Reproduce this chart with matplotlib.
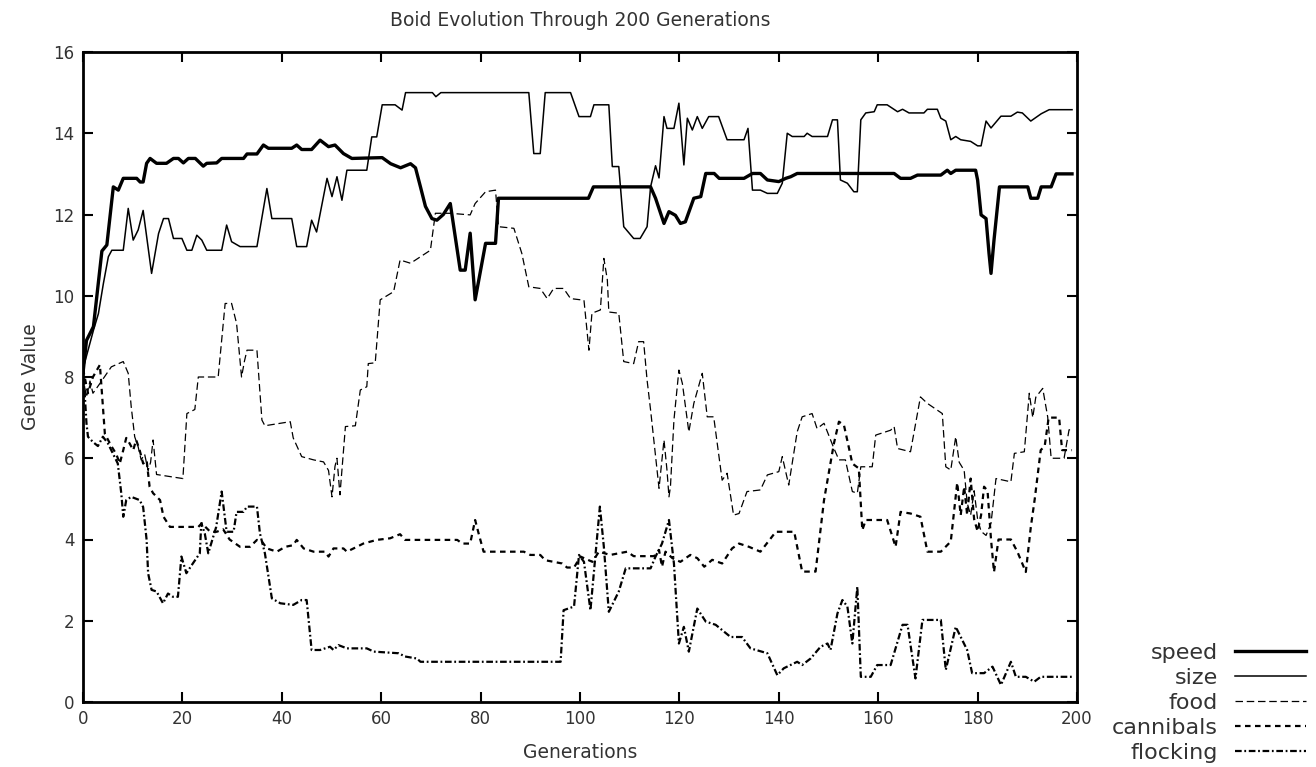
import matplotlib
matplotlib.use("Agg")
import matplotlib.pyplot as plt

# gene values: (generation, value)
speed = [(0, 8.1), (0.7, 8.9), (2.1, 9.24), (3.8, 11.1), (4.8, 11.25), (6.1, 12.68), (7.1, 12.6),
         (8.1, 12.89), (10.8, 12.89), (11.5, 12.8), (12.1, 12.8), (12.8, 13.26), (13.5, 13.38),
         (14.8, 13.26), (16.8, 13.26), (18.2, 13.38), (19.2, 13.38), (20.2, 13.27), (21.2, 13.38),
         (22.6, 13.38), (24.2, 13.19), (24.9, 13.26), (26.9, 13.27), (27.9, 13.38), (32.3, 13.38),
         (33, 13.49), (35, 13.49), (36.3, 13.71), (37.3, 13.63), (42, 13.63), (43, 13.71), (44, 13.6),
         (46, 13.6), (47.7, 13.83), (49.4, 13.67), (50.7, 13.71), (52.4, 13.5), (54.1, 13.38),
         (60.2, 13.4), (61.9, 13.25), (63.9, 13.15), (65.9, 13.25), (66.9, 13.15), (67.9, 12.68),
         (68.9, 12.2), (70.2, 11.9), (71.2, 11.86), (72.5, 12.0), (73.9, 12.27), (75.9, 10.63),
         (76.9, 10.63), (77.9, 11.54), (78.9, 9.9), (81, 11.29), (83, 11.29), (83.6, 12.4),
         (101.7, 12.4), (102.7, 12.68), (114.2, 12.68), (115.2, 12.4), (116.9, 11.78), (117.9, 12.07),
         (119.2, 11.98), (120.2, 11.78), (121.2, 11.82), (122.9, 12.4), (124.3, 12.44), (125.3, 13.01),
         (127, 13.01), (128, 12.89), (133, 12.89), (134.7, 13.01), (136.3, 13.01), (137.7, 12.85),
         (140, 12.81), (141.4, 12.89), (142.4, 12.93), (143.7, 13.01), (163.2, 13.01), (164.5, 12.89),
         (166.5, 12.89), (167.9, 12.97), (172.6, 12.97), (173.9, 13.09), (174.6, 13.01), (175.6, 13.09),
         (179.6, 13.09), (180, 12.85), (180.7, 11.99), (181.7, 11.9), (182.3, 11.04), (182.7, 10.55),
         (183.3, 11.37), (184.4, 12.68), (190.1, 12.68), (190.7, 12.4), (192.1, 12.4), (192.8, 12.68),
         (194.8, 12.68), (195.8, 13.0), (199, 13.0)]

size = [(0, 8.2), (2.1, 9.15), (3.1, 9.56), (4.1, 10.3), (5.1, 10.96), (5.8, 11.12), (8.1, 11.12),
        (9.1, 12.15), (10.1, 11.37), (11.1, 11.62), (12.1, 12.1), (13.8, 10.55), (15.2, 11.53),
        (16.2, 11.9), (17.2, 11.9), (18.2, 11.41), (19.9, 11.41), (20.9, 11.12), (21.9, 11.12),
        (22.9, 11.49), (23.9, 11.37), (24.9, 11.12), (27.9, 11.12), (28.9, 11.74), (29.9, 11.33),
        (31.6, 11.21), (35, 11.21), (37, 12.64), (38, 11.9), (42, 11.9), (43, 11.21), (45, 11.21),
        (46, 11.86), (47, 11.57), (49.1, 12.89), (50.1, 12.44), (51.1, 12.93), (52.1, 12.35),
        (53.1, 13.09), (57.1, 13.09), (58.1, 13.91), (59.1, 13.91), (60.2, 14.7), (62.8, 14.7),
        (64.2, 14.57), (64.9, 15), (70.3, 15), (71, 14.9), (72, 15), (89.7, 15), (90.7, 13.5),
        (92, 13.5), (93, 15), (98.1, 15), (99.8, 14.41), (102.1, 14.41), (102.8, 14.7), (105.8, 14.7),
        (106.5, 13.18), (107.8, 13.18), (108.8, 11.7), (110.8, 11.41), (112.1, 11.41), (113.5, 11.7),
        (114.2, 12.68), (115.2, 13.2), (115.9, 12.9), (116.9, 14.41), (117.5, 14.12), (118.9, 14.12),
        (119.9, 14.74), (120.9, 13.22), (121.6, 14.37), (122.6, 14.08), (123.6, 14.41), (124.6, 14.12),
        (125.9, 14.41), (127.9, 14.41), (129.6, 13.84), (133, 13.84), (133.8, 14.12), (134.7, 12.6),
        (136.3, 12.6), (137.7, 12.52), (139.7, 12.52), (140.7, 12.77), (141.7, 14.0), (142.7, 13.92),
        (145.1, 13.92), (145.7, 14.0), (146.7, 13.92), (149.8, 13.92), (150.8, 14.33), (151.8, 14.33),
        (152.4, 12.85), (153.8, 12.77), (155.1, 12.56), (155.8, 12.56), (156.5, 14.33), (157.5, 14.5),
        (159.2, 14.53), (159.8, 14.7), (161.8, 14.7), (163.9, 14.53), (164.9, 14.59), (166.2, 14.5),
        (169.2, 14.5), (169.9, 14.59), (171.9, 14.59), (172.6, 14.37), (173.6, 14.3), (174.6, 13.84),
        (175.6, 13.92), (176.6, 13.84), (178.6, 13.8), (180, 13.69), (180.7, 13.69), (181.7, 14.3),
        (182.7, 14.13), (184.7, 14.42), (186.7, 14.42), (188, 14.52), (189, 14.5), (190.7, 14.3),
        (192.8, 14.48), (194.4, 14.58), (199, 14.58)]

food = [(0, 8.0), (0.7, 7.5), (1.4, 7.9), (2, 7.6), (3.4, 7.84), (5.7, 8.25), (8.1, 8.38), (9.1, 8.09),
        (9.7, 7.27), (10.4, 6.53), (11.1, 6.28), (11.7, 5.96), (12.4, 6.1), (13.1, 5.7), (13.6, 5.9),
        (14.1, 6.45), (14.8, 5.6), (20.1, 5.5), (20.9, 7.1), (22.5, 7.2), (23.2, 8.0), (27.2, 8.0),
        (28.6, 9.81), (29.9, 9.81), (30.9, 9.32), (31.9, 8.0), (32.5, 8.4), (33, 8.66), (35, 8.66),
        (36, 6.94), (36.6, 6.8), (41.7, 6.9), (42.3, 6.5), (44, 6.04), (46.4, 5.96), (48.4, 5.91),
        (49.4, 5.7), (50.1, 5.05), (50.7, 5.8), (51.1, 6.0), (51.7, 5.1), (52.8, 6.78), (54.8, 6.8),
        (55.8, 7.68), (57.1, 7.76), (57.4, 8.33), (58.8, 8.35), (59.8, 9.9), (62.5, 10.1), (63.8, 10.88),
        (65.9, 10.8), (67.9, 10.96), (69.9, 11.12), (70.9, 12.03), (73.9, 12.03), (77.9, 11.99),
        (78.9, 12.27), (81, 12.56), (83, 12.6), (83.6, 11.7), (86.7, 11.66), (88.3, 11.04), (89.7, 10.22),
        (92, 10.18), (93.4, 9.93), (94.7, 10.18), (96.7, 10.18), (98.1, 9.93), (100.8, 9.89),
        (101.8, 8.66), (102.4, 9.57), (104.1, 9.65), (104.8, 10.92), (105.5, 10.39), (105.8, 9.6),
        (107.8, 9.57), (108.8, 8.38), (110.8, 8.33), (111.8, 8.87), (112.8, 8.87), (113.5, 7.92),
        (114.2, 7.19), (115.5, 5.71), (115.9, 5.26), (116.9, 6.45), (117.5, 5.71), (117.9, 5.05),
        (118.2, 5.3), (118.9, 6.94), (119.9, 8.17), (120.6, 7.84), (121.9, 6.65), (122.9, 7.35),
        (124.6, 8.09), (125.6, 7.02), (126.9, 7.02), (128.6, 5.46), (129.6, 5.63), (130.9, 4.6),
        (132, 4.64), (133.6, 5.18), (136.3, 5.22), (137.7, 5.59), (140, 5.67), (140.7, 6.04),
        (142, 5.34), (143.7, 6.65), (144.7, 7.02), (146.7, 7.1), (147.7, 6.73), (149.1, 6.86),
        (151.1, 6.24), (152.1, 5.96), (153.4, 5.96), (154.8, 5.18), (155.8, 5.14), (156.5, 5.79),
        (158.8, 5.79), (159.5, 6.57), (162.5, 6.69), (163.2, 6.78), (163.9, 6.24), (166.5, 6.16),
        (168.5, 7.51), (169.9, 7.35), (172.9, 7.1), (173.6, 5.79), (174.6, 5.71), (175.6, 6.53),
        (176.3, 5.9), (177.3, 5.7), (177.9, 4.9), (178.6, 4.6), (179.3, 5.2), (180, 4.5), (180.7, 4.2),
        (181.7, 4.1), (182.7, 4.4), (183.7, 5.5), (186.7, 5.42), (187.4, 6.12), (189.4, 6.16),
        (190.4, 7.6), (191.1, 7.0), (191.7, 7.5), (193.1, 7.72), (194.1, 7.02), (194.8, 6.0),
        (197.4, 6.0), (198.4, 6.7), (199, 6.7)]

cannibals = [(0, 8.2), (1, 7.6), (2, 8.0), (3.4, 8.3), (4.4, 6.6), (5.7, 6.3), (6.7, 6.1), (7.4, 5.87),
             (8.1, 6.2), (8.7, 6.5), (9.4, 6.36), (10.1, 6.2), (10.7, 6.45), (11.4, 6.2), (12.1, 5.87),
             (12.8, 5.95), (13.4, 5.3), (14.1, 5.14), (15.5, 4.97), (16.2, 4.56), (17.5, 4.31),
             (23.2, 4.31), (23.9, 4.4), (25.6, 4.19), (26.9, 4.19), (28.2, 4.25), (29.5, 4.0),
             (31.6, 3.82), (33.6, 3.82), (35, 3.99), (36, 3.95), (37, 3.78), (39, 3.7), (40.7, 3.82),
             (42.3, 3.86), (43, 3.99), (44.4, 3.78), (46.4, 3.7), (48.7, 3.7), (49.4, 3.58), (50.4, 3.78),
             (52.4, 3.78), (53.1, 3.7), (55.1, 3.82), (56.4, 3.9), (59.1, 3.99), (61.8, 4.03),
             (63.8, 4.13), (64.8, 3.99), (75.3, 3.99), (76.3, 3.9), (77.9, 3.9), (78.9, 4.48),
             (79.6, 4.15), (80.6, 3.7), (88.7, 3.7), (90, 3.62), (92, 3.62), (93, 3.49), (96.4, 3.41),
             (97.4, 3.31), (98.8, 3.31), (100.1, 3.58), (102.5, 3.45), (103.8, 3.7), (106.1, 3.62),
             (109.5, 3.7), (110.8, 3.59), (114.9, 3.59), (115.9, 3.74), (116.5, 3.33), (117.2, 3.7),
             (118.6, 3.54), (120.2, 3.45), (122.2, 3.62), (123.6, 3.54), (125, 3.33), (126.6, 3.5),
             (128.6, 3.41), (130.6, 3.78), (132, 3.9), (134, 3.82), (136.3, 3.7), (139.4, 4.19),
             (143.1, 4.19), (144.7, 3.21), (147.4, 3.21), (149.1, 4.97), (151.1, 6.37), (152.1, 6.9),
             (153.1, 6.82), (154.8, 5.87), (156.1, 5.75), (156.8, 4.23), (157.5, 4.48), (161.8, 4.48),
             (163.5, 3.82), (164.5, 4.68), (166.5, 4.64), (168.5, 4.56), (169.9, 3.7), (172.6, 3.7),
             (174.6, 3.95), (175.9, 5.4), (176.6, 4.6), (177.3, 5.3), (177.9, 4.6), (178.6, 5.5),
             (179.3, 4.5), (180, 4.2), (180.7, 4.6), (181.3, 5.3), (182, 5.2), (182.7, 4.0), (183.3, 3.2),
             (184.2, 4.0), (186.7, 4.0), (188, 3.7), (189.7, 3.2), (190.7, 4.3), (191.5, 5.0),
             (192.7, 6.2), (193.5, 6.3), (194.3, 7.0), (196.4, 7.0), (197, 6.2), (199, 6.2)]

flocking = [(0, 8.0), (0.3, 7.68), (0.7, 6.86), (1, 6.53), (2, 6.4), (3, 6.3), (4, 6.53), (5, 6.37),
            (6, 6.12), (7, 5.87), (7.7, 5.14), (8.1, 4.56), (8.7, 4.97), (9.7, 5.05), (11.4, 4.97),
            (12.1, 4.8), (12.8, 3.99), (13.1, 3.17), (13.8, 2.76), (14.8, 2.72), (16.1, 2.43),
            (17.1, 2.67), (18.1, 2.59), (19.1, 2.59), (19.8, 3.58), (20.8, 3.17), (22.1, 3.41),
            (23.5, 3.66), (23.8, 4.4), (24.5, 4.15), (25.2, 3.66), (26.8, 4.31), (27.9, 5.18),
            (28.9, 4.19), (30.3, 4.19), (30.9, 4.68), (32.3, 4.68), (33, 4.81), (35, 4.81), (35.6, 4.15),
            (36.6, 3.66), (38, 2.55), (39.7, 2.43), (42.3, 2.39), (44, 2.51), (45, 2.51), (46, 1.28),
            (47.7, 1.28), (49.7, 1.36), (50.4, 1.28), (51.4, 1.4), (53.1, 1.32), (57.1, 1.32),
            (58.5, 1.24), (63.5, 1.2), (64.8, 1.12), (67.2, 1.07), (67.9, 0.99), (96.1, 0.99),
            (96.7, 2.26), (98.8, 2.35), (99.8, 3.62), (100.8, 3.45), (102.1, 2.26), (104, 4.81),
            (104.8, 3.82), (105.8, 2.22), (107.8, 2.72), (109.2, 3.29), (114.2, 3.29), (115.2, 3.58),
            (116.5, 3.9), (117.9, 4.48), (118.9, 3.41), (119.9, 1.44), (120.9, 1.85), (121.9, 1.24),
            (123.6, 2.3), (125.3, 1.98), (127.3, 1.9), (130.3, 1.6), (132.6, 1.6), (134.3, 1.32),
            (137.7, 1.2), (139.7, 0.66), (141, 0.83), (143.7, 0.99), (144.7, 0.91), (146.4, 1.07),
            (148.4, 1.36), (149.8, 1.44), (150.4, 1.28), (151.8, 2.18), (152.8, 2.51), (153.8, 2.35),
            (154.8, 1.44), (155.8, 2.84), (156.5, 0.62), (158.5, 0.62), (159.8, 0.91), (162.5, 0.91),
            (164.9, 1.9), (165.9, 1.9), (167.5, 0.58), (168.9, 2.02), (172.6, 2.02), (173.6, 0.79),
            (175.6, 1.85), (177.9, 1.28), (178.9, 0.71), (181.3, 0.71), (183, 0.87), (184.7, 0.42),
            (186.7, 0.99), (187.7, 0.62), (189.7, 0.62), (191.4, 0.5), (192.7, 0.62), (199, 0.62)]

series_names = ["speed", "size", "food", "cannibals", "flocking"]
x_ticks = list(range(0, 201, 20))
y_ticks = list(range(0, 17, 2))

text_col = "#333333"

fig = plt.figure(figsize=(13.16, 7.67), dpi=100)
ax = fig.add_axes([83 / 1316, 65 / 767, 994 / 1316, 650 / 767])

styles = [
    dict(lw=2.4, ls="-"),
    dict(lw=1.1, ls="-"),
    dict(lw=0.9, ls=(0, (6, 3))),
    dict(lw=1.6, ls=(0, (2.5, 2))),
    dict(lw=1.6, ls=(0, (3, 1.2, 0.8, 1.2))),
]
for name, data, st in zip(series_names, [speed, size, food, cannibals, flocking], styles):
    g, v = zip(*data)
    ax.plot(g, v, color="black", label=name, **st)

ax.set_xlim(0, 200)
ax.set_ylim(0, 16)
ax.set_xticks(x_ticks)
ax.set_yticks(y_ticks)
ax.tick_params(direction="in", length=7, width=1.5, top=True, right=True,
               labelsize=12, labelcolor=text_col, pad=6)
for sp in ax.spines.values():
    sp.set_linewidth(2)

fig.text(580 / 1316, 1 - 20 / 767, "Boid Evolution Through 200 Generations",
         ha="center", va="center", fontsize=13.5, color=text_col)
fig.text(580 / 1316, 1 - 752 / 767, "Generations", ha="center", va="center",
         fontsize=13.5, color=text_col)
fig.text(30 / 1316, 1 - 377 / 767, "Gene Value", ha="center", va="center",
         rotation=90, fontsize=13.5, color=text_col)

ax.legend(loc="center right", bbox_to_anchor=(1306 / 1316, 1 - 703 / 767),
          bbox_transform=fig.transFigure, frameon=False, markerfirst=False,
          fontsize=16, handlelength=3.2, handletextpad=0.75, labelspacing=0.22,
          borderpad=0, borderaxespad=0, labelcolor=text_col)

fig.savefig("out.png", dpi=100)
